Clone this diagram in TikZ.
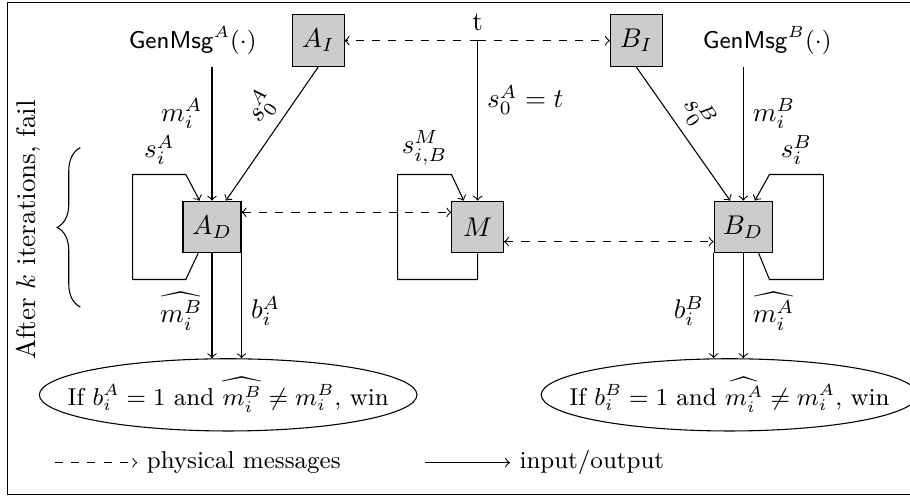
\documentclass[tikz,border=0pt]{standalone}
\usetikzlibrary{shapes.geometric,decorations.pathreplacing}
\tikzset{box/.style={draw, fill=gray!40, minimum size=0.67cm},
  win/.style={draw, ellipse, font=\small, inner xsep=-10pt, inner ysep=3pt}}
\begin{document}
\begin{tikzpicture}[>=to, node distance=3.45cm]
\useasboundingbox (-2.753,-3.494) rectangle (9.065,2.948);
\draw (9.065,2.92) -| (-2.66,-3.47) -- (9.065,-3.47);
% devices
\node[box] (ad) {$A_D$};
\node[box, right of=ad] (m) {$M$};
\node[box, right of=m] (bd) {$B_D$};
\node[box] (ai) at (1.38,2.42) {$A_I$};
\node[box] (bi) at (5.51,2.42) {$B_I$};
\node[font=\small] (genA) at (-0.25,2.42) {$\mathsf{GenMsg}^A(\cdot)$};
\node[font=\small] (genB) at (7.21,2.42) {$\mathsf{GenMsg}^B(\cdot)$};
\coordinate (t) at (m |- ai);
\node[above] (tl) at (t) {t};
\coordinate (inA) at (ad |- ai.south);
\coordinate (inB) at (bd |- bi.south);
% outcomes
\node[win] (winA) at (0.21,-2.18) {If $b_i^A = 1$ and $\widehat{m_i^B} \neq m_i^B$, win};
\node[win] (winB) at (6.72,-2.18) {If $b_i^B = 1$ and $\widehat{m_i^A} \neq m_i^A$, win};
% physical messages
\draw[dashed,->] (t) -- (ai);
\draw[dashed,->] (t) -- (bi);
\draw[dashed,<->] ([yshift=0.19cm]ad.east) -- ([yshift=0.19cm]m.west);
\draw[dashed,<->] ([yshift=-0.19cm]m.east) -- ([yshift=-0.19cm]bd.west);
% input/output
\draw[->] (inA) -- node[left, pos=.35] {$m_i^A$} (ad);
\draw[->] (ai.south) -- node[sloped, above, pos=.4] {$s_0^A$} ([xshift=0.18cm]ad.north);
\draw[->] (inB) -- node[right, pos=.35] {$m_i^B$} (bd);
\draw[->] (bi.south) -- node[sloped, above, pos=.45] {$s_0^B$} ([xshift=-0.17cm]bd.north);
\draw[->] (t) -- node[right, pos=.37] {$s_0^A = t$} (m);
\draw[->] ([xshift=-0.18cm]ad.south) -- ++(-0.16,-0.34) -- ++(-0.69,0) |- ([xshift=-0.34cm, yshift=0.34cm]ad.north) node[above, pos=.75] {$s_i^A$} -- ([xshift=-0.16cm]ad.north);
\draw[->] (m.south) -- ++(0,-0.34) -- ++(-1.04,0) |- ([xshift=-0.34cm, yshift=0.34cm]m.north) node[above, pos=.75] {$s_{i,B}^M$} -- ([xshift=-0.18cm]m.north);
\draw[->] ([xshift=0.2cm]bd.south) -- ++(0.14,-0.34) -- ++(0.7,0) |- ([xshift=0.34cm, yshift=0.34cm]bd.north) node[above, pos=.75] {$s_i^B$} -- ([xshift=0.15cm]bd.north);
\draw[->] (ad.south) -- node[left, pos=.55] {$\widehat{m_i^B}$} (ad.south |- winA.north);
\draw[->] (ad.south east) -- node[right, pos=.55] {$b_i^A$} (ad.south east |- winA.north);
\draw[->] (bd.south west) -- node[left, pos=.55] {$b_i^B$} (bd.south west |- winB.north);
\draw[->] (bd.south) -- node[right, pos=.55] {$\widehat{m_i^A}$} (bd.south |- winB.north);
% iterations
\coordinate (br1) at (-1.71,-1.04);
\coordinate (br2) at (-1.71,1.03);
\draw[decorate, decoration={brace, amplitude=0.3cm}] (br1) -- (br2);
\node[rotate=90] (fail) at (-2.39,-0.04) {After $k$ iterations, fail};
% legend
\coordinate (lg1) at (-2.04,-3.06);
\coordinate (lg2) at (-0.97,-3.06);
\coordinate (lg3) at (2.77,-3.06);
\coordinate (lg4) at (3.87,-3.06);
\draw[dashed,->] (lg1) -- (lg2) node[right, font=\small] {physical messages};
\draw[->] (lg3) -- (lg4) node[right, font=\small] {input/output};
\end{tikzpicture}
\end{document}
